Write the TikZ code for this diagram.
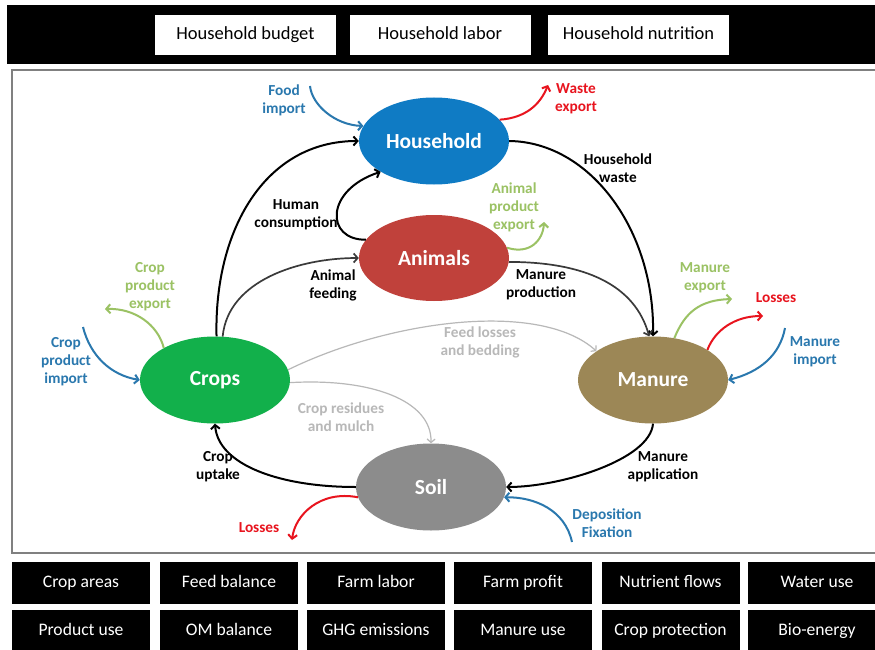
\documentclass[tikz,border=0pt]{standalone}
\usepackage{fontspec}
\setmainfont{Carlito}
\usetikzlibrary{shapes.geometric,arrows.meta}
\definecolor{hhblue}{HTML}{0F7BC4}
\definecolor{anred}{HTML}{C0413B}
\definecolor{crgreen}{HTML}{12B04B}
\definecolor{mnbrown}{HTML}{9C8756}
\definecolor{sogray}{HTML}{8C8C8C}
\definecolor{inblue}{HTML}{2A78AE}
\definecolor{exgreen}{HTML}{9BC264}
\definecolor{lossred}{HTML}{E8141E}
\definecolor{ltgray}{HTML}{B8B8B8}
\definecolor{dkgray}{HTML}{3A3A3A}
\definecolor{framegray}{HTML}{808080}
\tikzset{
  ell/.style={ellipse, minimum width=150pt, minimum height=87pt, inner sep=0pt, text=white,
    font=\fontsize{21.5}{24}\selectfont\bfseries},
  lab/.style={align=center, inner sep=0pt, font=\fontsize{15.3}{18}\selectfont\bfseries},
  topbox/.style={fill=white, minimum width=181pt, minimum height=40pt, inner sep=0pt,
    text height=12.5pt, text depth=4pt, font=\fontsize{18.5}{21}\selectfont},
  botbox/.style={fill=black, text=white, minimum width=138pt, minimum height=42pt, inner sep=0pt,
    text height=12pt, text depth=4pt, font=\fontsize{17.6}{20}\selectfont},
  arr/.style={-{Straight Barb[length=4pt,width=9pt]}, line width=2pt},
  thinarr/.style={-{Straight Barb[length=3.5pt,width=8pt]}, line width=1.2pt}
}
\begin{document}
\begin{tikzpicture}[x=1pt,y=-1pt]
\useasboundingbox (0,0) rectangle (875,650);
\fill[white] (0,0) rectangle (875,650);
% top bar
\fill[black] (7,5) rectangle (885,64);
\node[topbox] (t1) at (245.5,35) {Household budget};
\node[topbox] (t2) at (440,35) {Household labor};
\node[topbox] (t3) at (638.5,35) {Household nutrition};
% frame
\draw[framegray, line width=1.5pt] (12,70) rectangle (885,553);
% bottom boxes
\node[botbox] (b1) at (81,583) {Crop areas};
\node[botbox] (b2) at (229,583) {Feed balance};
\node[botbox] (b3) at (376,583) {Farm labor};
\node[botbox] (b4) at (523,583) {Farm profit};
\node[botbox] (b5) at (670.5,583) {Nutrient flows};
\node[botbox] (b6) at (817,583) {Water use};
\node[botbox] (b7) at (81,631) {Product use};
\node[botbox] (b8) at (229,631) {OM balance};
\node[botbox] (b9) at (376,631) {GHG emissions};
\node[botbox] (b10) at (523,631) {Manure use};
\node[botbox] (b11) at (670.5,631) {Crop protection};
\node[botbox] (b12) at (817,631) {Bio-energy};
% ellipses
\node[ell, fill=hhblue] (hh) at (434,141) {Household};
\node[ell, fill=anred, minimum height=86pt] (an) at (434,258) {Animals};
\node[ell, fill=crgreen] (cr) at (215,380) {Crops};
\node[ell, fill=mnbrown] (mn) at (653,380) {Manure};
\node[ell, fill=sogray] (so) at (431,487) {Soil};
% free ends
\coordinate (fi) at (310,86);
\coordinate (we) at (548,85);
\coordinate (ape) at (544,222);
\coordinate (cpe) at (105,309);
\coordinate (cpi) at (83,327);
\coordinate (me) at (732,299);
\coordinate (ml) at (763,316);
\coordinate (mi) at (785,328);
\coordinate (sl) at (292,540);
\coordinate (df) at (572,542);
% main flows
\draw[arr] (cr.88) .. controls (214,230) and (265,141) .. (hh.west);
\draw[arr, dkgray, line width=1.7pt] (cr.80) .. controls (228,280) and (300,258) .. (an.west);
\draw[arr] (an.165) .. controls (325,240) and (325,190) .. (hh.210);
\draw[arr] (hh.east) .. controls (590,142) and (655,230) .. (mn.north);
\draw[arr, dkgray, line width=1.7pt] (an.-3) .. controls (585,262) and (635,285) .. (mn.95);
\draw[thinarr, ltgray] (cr.8) .. controls (390,320) and (540,300) .. (mn.153);
\draw[thinarr, ltgray] (cr.-2) .. controls (370,378) and (432,400) .. (so.north);
\draw[arr] (mn.south) .. controls (650,460) and (560,487) .. (so.east);
\draw[arr] (so.west) .. controls (280,487) and (218,465) .. (cr.south);
% imports / exports
\draw[arr, inblue] (fi) .. controls (312,105) and (335,125) .. (hh.168);
\draw[arr, lossred] (hh.18) .. controls (525,118) and (540,105) .. (we);
\draw[arr, exgreen] (an.8) .. controls (530,255) and (543,240) .. (ape);
\draw[arr, exgreen] (cr.148) .. controls (158,325) and (135,308) .. (cpe);
\draw[arr, inblue] (cpi) .. controls (90,355) and (110,375) .. (cr.west);
\draw[arr, exgreen] (mn.63) .. controls (685,312) and (700,300) .. (me);
\draw[arr, lossred] (mn.29) .. controls (715,330) and (735,316) .. (ml);
\draw[arr, inblue] (mi) .. controls (780,355) and (760,372) .. (mn.east);
\draw[arr, lossred] (so.188) .. controls (320,490) and (295,515) .. (sl);
\draw[arr, inblue] (df) .. controls (565,510) and (535,497) .. (so.-8);
% labels
\node[lab, inblue] (lfi) at (284,100) {Food\\import};
\node[lab, lossred] (lwe) at (576,99) {Waste\\export};
\node[lab] (lhw) at (618,168) {Household\\waste};
\node[lab] (lhc) at (296,215) {Human\\consumption};
\node[lab, exgreen] (lape) at (514,207) {Animal\\product\\export};
\node[lab] (laf) at (333,285) {Animal\\feeding};
\node[lab] (lmp) at (541,285) {Manure\\production};
\node[lab, exgreen] (lcpe) at (150,287) {Crop\\product\\export};
\node[lab, inblue] (lcpi) at (66,362) {Crop\\product\\import};
\node[lab, ltgray] (lfl) at (480,342) {Feed losses\\and bedding};
\node[lab, ltgray] (lcr) at (341,417) {Crop residues\\and mulch};
\node[lab] (lcu) at (218,467) {Crop\\uptake};
\node[lab, lossred] (lsl) at (259,528) {Losses};
\node[lab] (lma) at (663,467) {Manure\\application};
\node[lab, inblue] (ldf) at (607,523) {Deposition\\Fixation};
\node[lab, exgreen] (lme) at (705,278) {Manure\\export};
\node[lab, lossred] (lml) at (776,298) {Losses};
\node[lab, inblue] (lmi) at (815,352) {Manure\\import};
\end{tikzpicture}
\end{document}
